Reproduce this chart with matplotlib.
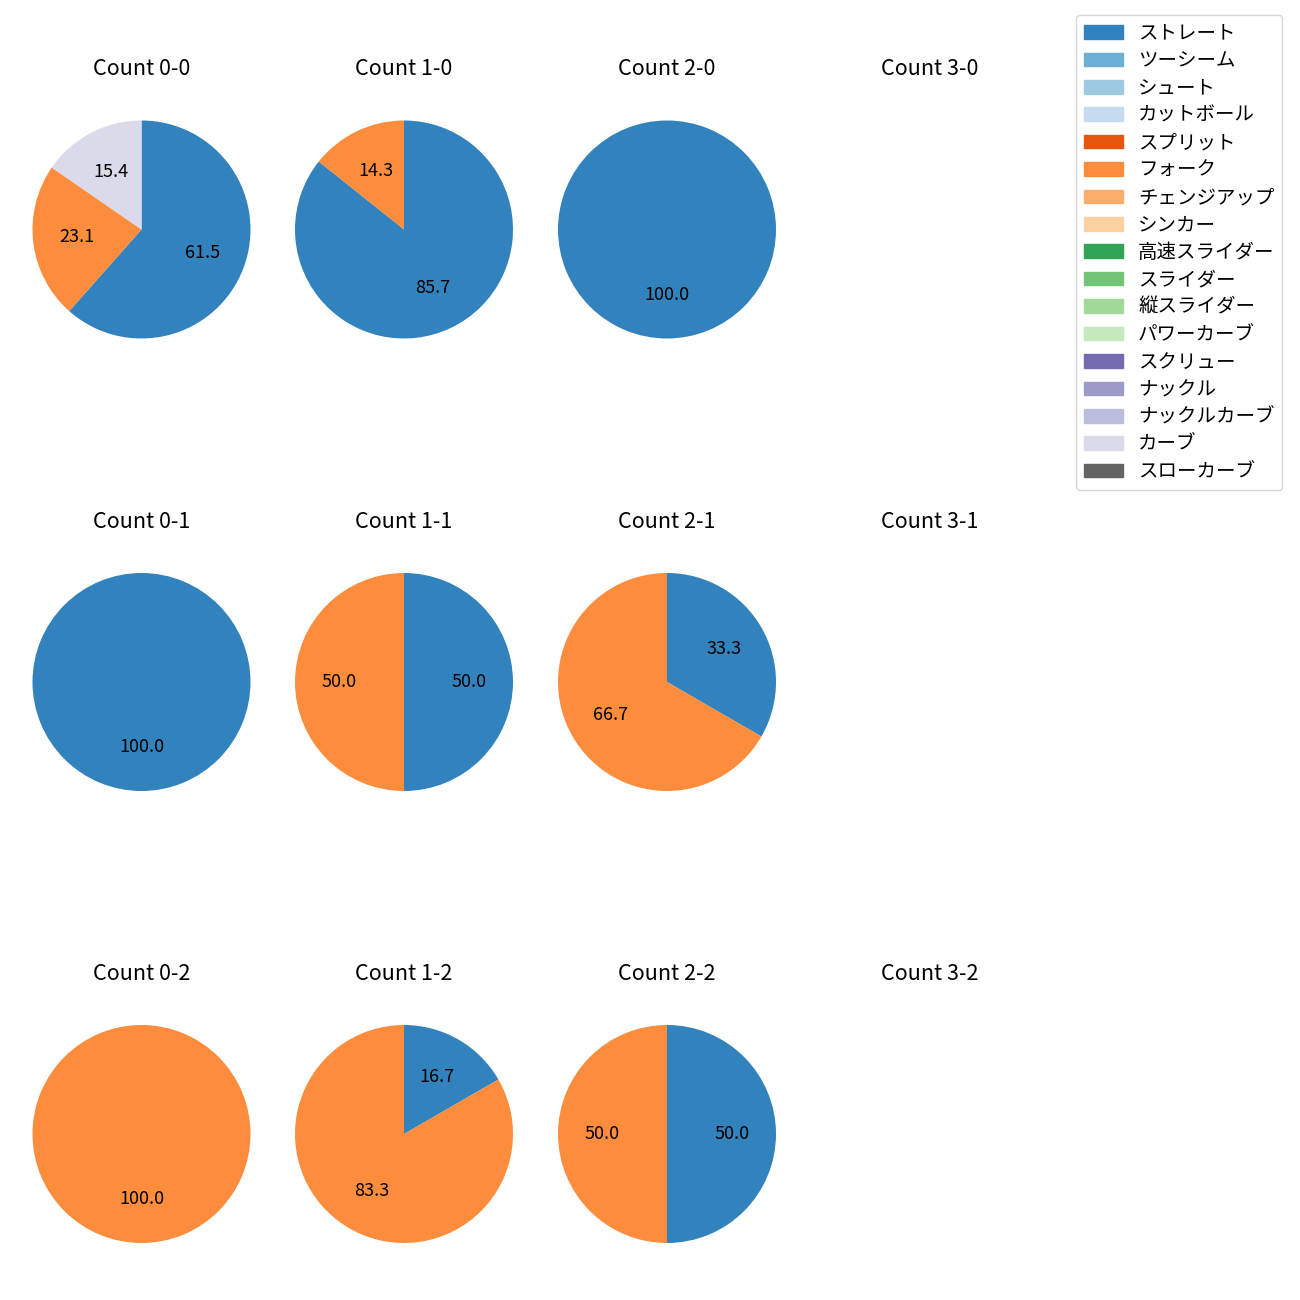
import matplotlib
matplotlib.use("Agg")
import matplotlib.pyplot as plt
from matplotlib.patches import Patch

plt.rcParams['font.family'] = ['Noto Sans CJK JP', 'DejaVu Sans']
plt.rcParams['font.size'] = 12

pitch_types = ['ストレート', 'ツーシーム', 'シュート', 'カットボール', 'スプリット', 'フォーク',
               'チェンジアップ', 'シンカー', '高速スライダー', 'スライダー', '縦スライダー',
               'パワーカーブ', 'スクリュー', 'ナックル', 'ナックルカーブ', 'カーブ', 'スローカーブ']
colors = ['#3182bd', '#6baed6', '#9ecae1', '#c6dbef', '#e6550d', '#fd8d3c', '#fdae6b', '#fdd0a2',
          '#31a354', '#74c476', '#a1d99b', '#c7e9c0', '#756bb1', '#9e9ac8', '#bcbddc', '#dadaeb',
          '#636363']

# pitch counts per ball-strike count
counts = {
    '0-0': {'ストレート': 8, 'フォーク': 3, 'カーブ': 2},
    '1-0': {'ストレート': 6, 'フォーク': 1},
    '2-0': {'ストレート': 1},
    '3-0': {},
    '0-1': {'ストレート': 2},
    '1-1': {'ストレート': 1, 'フォーク': 1},
    '2-1': {'ストレート': 1, 'フォーク': 2},
    '3-1': {},
    '0-2': {'フォーク': 2},
    '1-2': {'ストレート': 1, 'フォーク': 5},
    '2-2': {'ストレート': 1, 'フォーク': 1},
    '3-2': {},
}

fig = plt.figure(figsize=(13, 13), dpi=100)
W = H = 1300.0
box = 272.5
col_c = [141.5, 404, 667, 930]
row_c = [229.5, 682, 1134]

for r, strikes in enumerate(['0', '1', '2']):
    for c, balls in enumerate(['0', '1', '2', '3']):
        key = f'{balls}-{strikes}'
        ax = fig.add_axes([(col_c[c] - box / 2) / W, 1 - (row_c[r] + box / 2) / H, box / W, box / H])
        ax.set_title(f'Count {key}', fontsize=15.5, pad=13)
        d = counts[key]
        vals = [d[p] for p in pitch_types if p in d]
        cols = [colors[i] for i, p in enumerate(pitch_types) if p in d]
        if vals:
            ax.pie(vals, colors=cols, autopct='%.1f', startangle=90, counterclock=False,
                   textprops={'fontsize': 13})
        else:
            ax.pie([1], colors=['none'])
            ax.patches[0].set_visible(False)
        ax.set_aspect('equal')

handles = [Patch(color=cl, label=p) for p, cl in zip(pitch_types, colors)]
fig.legend(handles=handles, loc='upper right', bbox_to_anchor=(0.994, 0.996), fontsize=14,
           labelspacing=0.33)

fig.savefig('out.png', dpi=100)
